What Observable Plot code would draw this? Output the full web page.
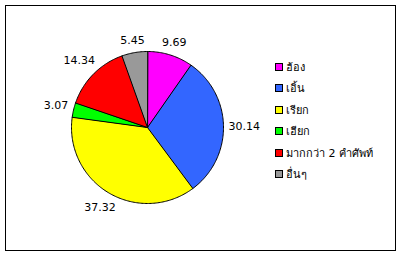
<!DOCTYPE html>
<html>
<head>
<meta charset="utf-8">
<script src="https://cdn.jsdelivr.net/npm/d3@7"></script>
<script src="https://cdn.jsdelivr.net/npm/@observablehq/plot@0.6"></script>
<style>
  html, body { margin: 0; padding: 0; background: #fff; }
  #wrap { position: relative; width: 400px; height: 256px; font-family: "DejaVu Sans", "Noto Sans", sans-serif; }
  #legend { position: absolute; left: 275px; top: 56px; font-size: 11px; color: #000; }
  .row { height: 21.5px; display: flex; align-items: center; white-space: nowrap; }
  .sw { width: 6px; height: 6px; border: 1px solid #000; margin-right: 3px; flex: none; }
</style>
</head>
<body>
<div id="wrap"></div>
<script>
const labels = ["ฮ้อง", "เอิ้น", "เรียก", "เฮียก", "มากกว่า 2 คำศัพท์", "อื่นๆ"];
const values = [9.69, 30.14, 37.32, 3.07, 14.34, 5.45];
const colors = ["#ff00ff", "#3366ff", "#ffff00", "#00ff00", "#ff0000", "#999999"];

const rows = labels.map((label, i) => ({label, value: values[i]}));
const arcs = d3.pie().sort(null).value(d => d.value)(rows);

// polygon outline of each slice, derived from the pie layout
const poly = [];
arcs.forEach(a => {
  poly.push({label: a.data.label, x: 0, y: 0});
  const n = Math.max(2, Math.ceil((a.endAngle - a.startAngle) / (Math.PI / 180)));
  for (let k = 0; k <= n; k++) {
    const t = a.startAngle + (a.endAngle - a.startAngle) * k / n;
    poly.push({label: a.data.label, x: Math.sin(t), y: Math.cos(t)});
  }
});

// label placement: text box just outside the rim
const R = 76;            // pie radius in px (matches x/y ranges below)
const ctx = document.createElement("canvas").getContext("2d");
ctx.font = "11px 'DejaVu Sans'";
const lab = arcs.map(a => {
  const m = (a.startAngle + a.endAngle) / 2;
  const text = a.data.value.toFixed(2);
  const w = ctx.measureText(text).width, h = 10;
  const s = Math.sin(m), c = Math.cos(m);
  const r = (81 + (w / 2) * Math.abs(s) + (h / 2) * Math.abs(c)) / R;
  return {x: r * s, y: r * c, text};
});

const chart = Plot.plot({
  width: 400,
  height: 256,
  marginLeft: 5, marginRight: 5, marginTop: 5, marginBottom: 6,
  style: {fontFamily: "DejaVu Sans, sans-serif", fontSize: "10px", background: "#fff"},
  x: {domain: [-1, 1], range: [147 - R, 147 + R], axis: null},
  y: {domain: [-1, 1], range: [127 + R, 127 - R], axis: null},
  color: {domain: labels, range: colors},
  marks: [
    Plot.frame({stroke: "#000"}),
    Plot.line(poly, {x: "x", y: "y", z: "label", fill: "label", stroke: "#000", strokeWidth: 1, curve: "linear-closed"}),
    Plot.text(lab, {x: "x", y: "y", text: "text", fill: "#000", fontSize: 11})
  ]
});
const wrap = document.getElementById("wrap");
wrap.appendChild(chart);

const legend = document.createElement("div");
legend.id = "legend";
labels.forEach((l, i) => {
  const r = document.createElement("div");
  r.className = "row";
  const s = document.createElement("span");
  s.className = "sw";
  s.style.background = colors[i];
  const t = document.createElement("span");
  t.textContent = l;
  r.appendChild(s); r.appendChild(t);
  legend.appendChild(r);
});
wrap.appendChild(legend);
</script>
</body>
</html>
